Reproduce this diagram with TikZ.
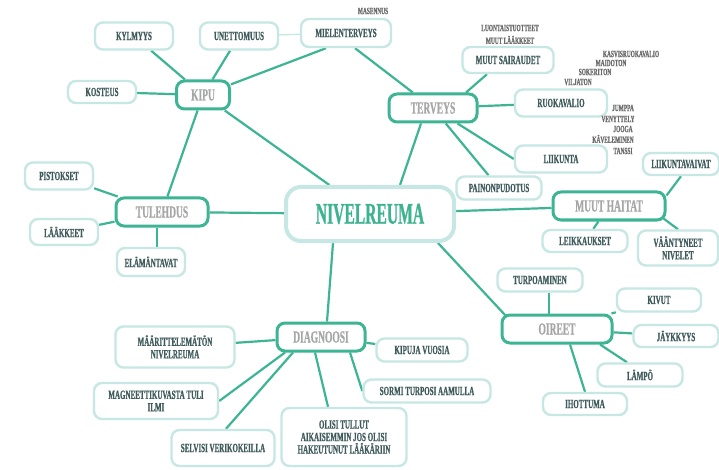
\documentclass[tikz,border=0pt]{standalone}
\usepackage{fontspec}
\setmainfont{Liberation Serif}
\newfontfamily\condfont{Liberation Serif}[UprightFont=* Bold, FakeStretch=0.56, FakeBold=0.6]
\newfontfamily\titlefont{Liberation Serif}[UprightFont=* Bold, FakeStretch=0.52, FakeBold=0.8]
\usetikzlibrary{backgrounds}
\definecolor{teal1}{HTML}{3DB594}
\definecolor{pale}{HTML}{C6E7E4}
\definecolor{ink}{HTML}{3E5A5B}
\definecolor{greytxt}{HTML}{A6A6A6}
\definecolor{notetxt}{HTML}{6A6A6A}
\definecolor{maintxt}{HTML}{3DB38F}
\tikzset{
  every node/.style={inner sep=0pt, align=center},
  leaf/.style={draw=pale, line width=2.4pt, rounded corners=8pt, fill=white,
    text=ink, font=\condfont\fontsize{12.5}{13.5}\selectfont},
  hub/.style={draw=teal1, line width=3pt, rounded corners=8pt, fill=white,
    text=greytxt, font=\condfont\fontsize{17}{18}\selectfont,
    minimum height=28pt},
  core/.style={draw=pale, line width=4pt, rounded corners=15pt, fill=white,
    text=maintxt, font=\titlefont\fontsize{30}{31}\selectfont,
    minimum width=168pt, minimum height=54pt},
  note/.style={text=notetxt, font=\condfont\fontsize{9.6}{10}\selectfont},
  link/.style={draw=teal1, line width=2.2pt},
  faint/.style={draw=pale, line width=1.3pt},
  bx/.style n args={2}{minimum width=#1pt, minimum height=#2pt},
}
\begin{document}
\begin{tikzpicture}[x=1pt, y=-1pt]
\useasboundingbox (0,0) rectangle (719,470);

% centre
\node[core] (nivel) at (370,214) {NIVELREUMA};

% main topics
\node[hub, minimum width=53pt] (kipu) at (203,95) {KIPU};
\node[hub, minimum width=88pt] (terv) at (433,108) {TERVEYS};
\node[hub, minimum width=92pt] (tul) at (162,212) {TULEHDUS};
\node[hub, minimum width=112pt] (mh) at (609,206) {MUUT HAITAT};
\node[hub, minimum width=88pt] (diag) at (321,337) {DIAGNOOSI};
\node[hub, minimum width=110pt] (oir) at (557,329) {OIREET};

% KIPU
\node[leaf, bx={78}{27}] (kyl) at (134,36) {KYLMYYS};
\node[leaf, bx={78}{27}] (unet) at (239,36) {UNETTOMUUS};
\node[leaf, bx={90}{28}] (miel) at (346,33) {MIELENTERVEYS};
\node[leaf, bx={68}{22}] (kost) at (102,92) {KOSTEUS};
\node[note] (mas) at (373,11) {MASENNUS};

% TERVEYS
\node[leaf, bx={91}{26}] (msair) at (508,60) {MUUT SAIRAUDET};
\node[note] (luont) at (510,28) {LUONTAISTUOTTEET};
\node[note] (mlaak) at (510,40) {MUUT LÄÄKKEET};
\node[leaf, bx={92}{27}] (ruok) at (561,103) {RUOKAVALIO};
\node[note] (kasv) at (631,54) {KASVISRUOKAVALIO};
\node[note] (maid) at (611,63) {MAIDOTON};
\node[note] (soke) at (595,72) {SOKERITON};
\node[note] (vilj) at (578,82) {VILJATON};
\node[note] (jump) at (623,108) {JUMPPA};
\node[note] (veny) at (618,119) {VENYTTELY};
\node[note] (joog) at (623,129) {JOOGA};
\node[note] (kave) at (613,139) {KÄVELEMINEN};
\node[note] (tans) at (623,151) {TANSSI};
\node[leaf, bx={92}{27}] (liik) at (561,159) {LIIKUNTA};
\node[leaf, bx={85}{23}] (pain) at (499,188) {PAINONPUDOTUS};

% MUUT HAITAT
\node[leaf, bx={76}{22}] (liiv) at (681,164) {LIIKUNTAVAIVAT};
\node[leaf, bx={85}{22}] (leik) at (585,241) {LEIKKAUKSET};
\node[leaf, bx={80}{35}] (vaan) at (678,248) {VÄÄNTYNEET\\[-1pt]NIVELET};

% TULEHDUS
\node[leaf, bx={68}{27}] (pist) at (59,176) {PISTOKSET};
\node[leaf, bx={68}{26}] (laak) at (64,232) {LÄÄKKEET};
\node[leaf, bx={68}{28}] (elam) at (151,262) {ELÄMÄNTAVAT};

% DIAGNOOSI
\node[leaf, bx={119}{41}] (maar) at (175,347) {MÄÄRITTELEMÄTÖN\\[-1pt]NIVELREUMA};
\node[leaf, bx={124}{36}] (magn) at (156,401) {MAGNEETTIKUVASTA TULI\\[-1pt]ILMI};
\node[leaf, bx={103}{36}] (selv) at (223,448) {SELVISI VERIKOKEILLA};
\node[leaf, bx={125}{58}] (olisi) at (344,437) {OLISI TULLUT\\[-1pt]AIKAISEMMIN JOS OLISI\\[-1pt]HAKEUTUNUT LÄÄKÄRIIN};
\node[leaf, bx={91}{23}] (kipuv) at (422,350) {KIPUJA VUOSIA};
\node[leaf, bx={127}{23}] (sormi) at (427,391) {SORMI TURPOSI AAMULLA};

% OIREET
\node[leaf, bx={85}{23}] (turp) at (540,280) {TURPOAMINEN};
\node[leaf, bx={84}{23}] (kiv) at (659,300) {KIVUT};
\node[leaf, bx={85}{22}] (jayk) at (676,336) {JÄYKKYYS};
\node[leaf, bx={85}{23}] (lamp) at (640,375) {LÄMPÖ};
\node[leaf, bx={84}{22}] (iho) at (585,404) {IHOTTUMA};

\begin{scope}[on background layer]
  \fill[white] (0,0) rectangle (719,470);
  % KIPU branch
  \draw[link] (kyl) -- (kipu);
  \draw[link] (unet) -- (kipu);
  \draw[link] (kost) -- (kipu);
  \draw[link] ([xshift=-20pt]miel.south) -- (kipu);
  \draw[faint] (unet) -- (miel);
  \draw[link] ([xshift=9pt]miel.south) -- (terv);
  \draw[link] (kipu) -- (nivel);
  \draw[link] (kipu) -- (tul);
  % TULEHDUS branch
  \draw[link] (pist) -- (tul);
  \draw[link] (laak) -- (tul);
  \draw[link] ([xshift=-5pt]tul.south) -- ([xshift=6pt]elam.north);
  \draw[link] (tul) -- (nivel);
  % TERVEYS branch
  \draw[link] ([xshift=-12pt]terv.south) -- ([xshift=30pt]nivel.north);
  \draw[link] ([xshift=33pt]terv.north) -- ([xshift=-21pt]msair.south);
  \draw[link] (terv) -- (ruok);
  \draw[link] (terv) -- (liik.west);
  \draw[link] (terv) -- (pain);
  % MUUT HAITAT branch
  \draw[link] (nivel) -- (mh);
  \draw[link] ([yshift=-5pt]mh.north east) -- (liiv.south);
  \draw[link] (mh) -- (leik);
  \draw[link] ([xshift=-3pt,yshift=3pt]mh.south east) -- (vaan.north);
  % DIAGNOOSI branch
  \draw[link] ([xshift=-37pt]nivel.south) -- ([xshift=6pt]diag.north);
  \draw[link] (maar) -- (diag);
  \draw[link] (magn.east) -- ([xshift=-36pt]diag.south);
  \draw[link] ([xshift=3pt]selv.north) -- ([xshift=-28pt]diag.south);
  \draw[link] ([xshift=-6pt]diag.south) -- ([xshift=-16pt]olisi.north);
  \draw[link] (diag) -- (kipuv);
  \draw[link] ([xshift=29pt]diag.south) -- (sormi.west);
  % OIREET branch
  \draw[link] ([xshift=-18pt]nivel.south east) -- ([xshift=5pt,yshift=-2pt]oir.north west);
  \draw[link] ([xshift=-8pt]oir.north) -- ([xshift=9pt]turp.south);
  \draw[link] (oir) -- (kiv);
  \draw[link] (oir) -- (jayk);
  \draw[link] ([xshift=43pt]oir.south) -- ([xshift=-13pt]lamp.north);
  \draw[link] ([xshift=13pt]oir.south) -- (iho.north);
\end{scope}
\end{tikzpicture}
\end{document}
